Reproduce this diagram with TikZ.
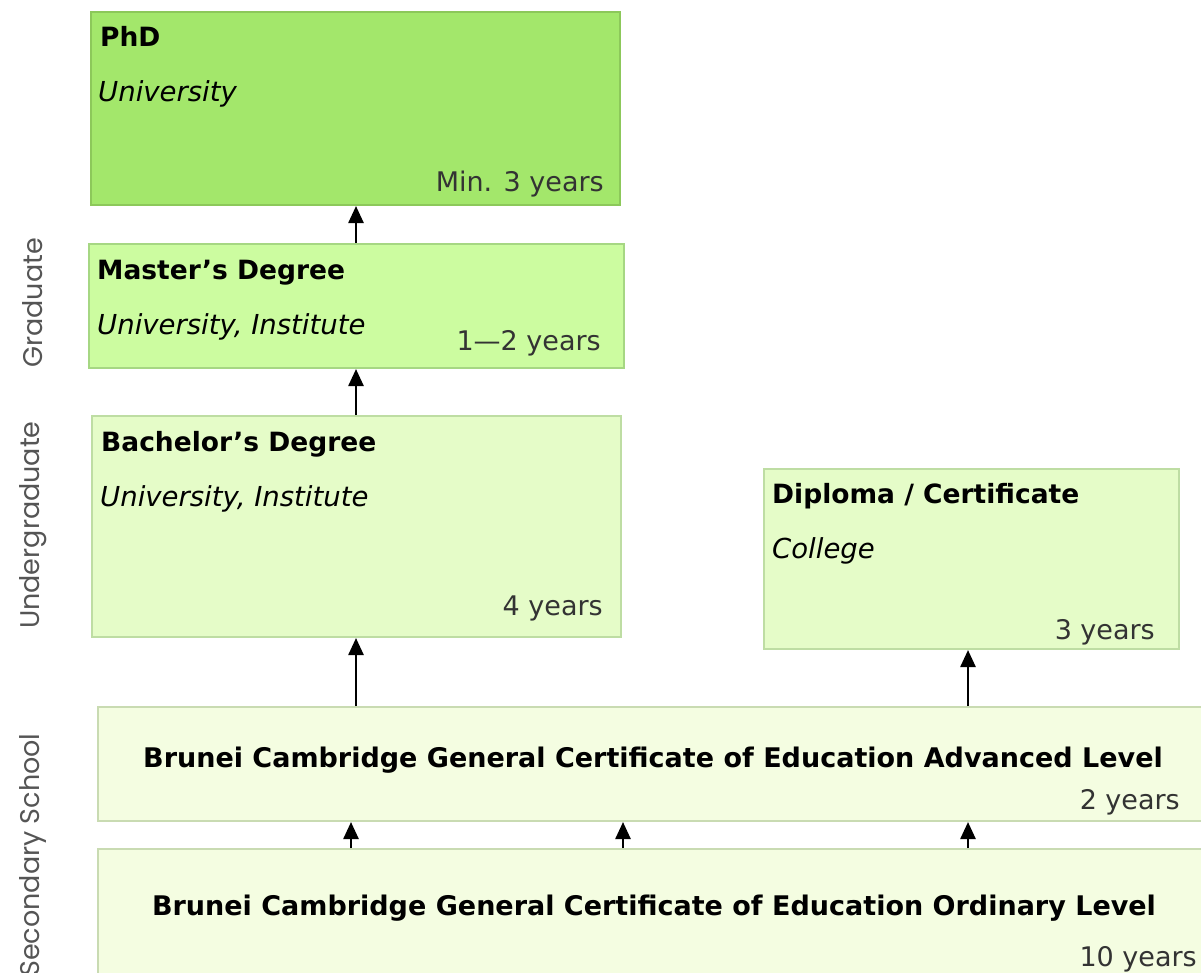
\documentclass[tikz,border=0pt]{standalone}
\usepackage{fontspec}
\setmainfont{DejaVu Sans}
\newfontfamily\sidefont{Poppins}
\usetikzlibrary{arrows.meta}
\definecolor{phdfill}{HTML}{A3E76B}
\definecolor{phdline}{HTML}{8CC85A}
\definecolor{msfill}{HTML}{CCFCA0}
\definecolor{msline}{HTML}{A6D783}
\definecolor{bafill}{HTML}{E5FCC8}
\definecolor{baline}{HTML}{BEDDA3}
\definecolor{alfill}{HTML}{F4FDE1}
\definecolor{alline}{HTML}{C9DBB2}
\definecolor{yeargray}{HTML}{333333}
\definecolor{sidegray}{HTML}{555555}
\tikzset{
  box/.style={draw, line width=2pt, anchor=north west, inner sep=0pt},
  ttl/.style={anchor=base west, inner sep=0pt, font=\fontsize{26.5}{30}\selectfont\bfseries},
  ctrttl/.style={anchor=base, inner sep=0pt, font=\fontsize{27}{30}\selectfont\bfseries},
  inst/.style={anchor=base west, inner sep=0pt, font=\fontsize{27.5}{30}\selectfont\itshape},
  yrs/.style={anchor=base east, inner sep=0pt, text=yeargray, font=\fontsize{27}{30}\selectfont},
  side/.style={rotate=90, anchor=center, inner sep=0pt, text=sidegray, font=\fontsize{27}{30}\selectfont\sidefont},
  arr/.style={line width=2.5pt, -{Triangle[width=15pt,length=17pt]}}
}
\begin{document}
\begin{tikzpicture}[x=1pt,y=-1pt]
\useasboundingbox (0,0) rectangle (1201,972);
% boxes
\node[box, fill=phdfill, draw=phdline, minimum width=529pt, minimum height=193pt] (phd) at (90,11) {};
\node[box, fill=msfill, draw=msline, minimum width=535pt, minimum height=124pt] (ms) at (88,243) {};
\node[box, fill=bafill, draw=baline, minimum width=529pt, minimum height=221pt] (ba) at (91,415) {};
\node[box, fill=bafill, draw=baline, minimum width=415pt, minimum height=180pt] (dip) at (763,468) {};
\node[box, fill=alfill, draw=alline, minimum width=1120pt, minimum height=114pt] (al) at (97,706) {};
\node[box, fill=alfill, draw=alline, minimum width=1120pt, minimum height=140pt] (ol) at (97,848) {};
% texts
\node[ttl] (phdT) at (100,46) {PhD};
\node[inst] (phdI) at (98,101) {University};
\node[yrs] (phdY) at (604,191) {Min. 3 years};
\node[ttl] (msT) at (97,279) {Master’s Degree};
\node[inst] (msI) at (97,334) {University, Institute};
\node[yrs] (msY) at (601,350) {1—2 years};
\node[ttl] (baT) at (101,451) {Bachelor’s Degree};
\node[inst] (baI) at (100,506) {University, Institute};
\node[yrs] (baY) at (603,615) {4 years};
\node[ttl] (dipT) at (772,503) {Diploma / Certificate};
\node[inst] (dipI) at (772,558) {College};
\node[yrs] (dipY) at (1155,639) {3 years};
\node[ctrttl] (alT) at (653,767) {Brunei Cambridge General Certificate of Education Advanced Level};
\node[yrs] (alY) at (1180,809) {2 years};
\node[ctrttl] (olT) at (654,915) {Brunei Cambridge General Certificate of Education Ordinary Level};
\node[yrs] (olY) at (1197,966) {10 years};
% side labels
\node[side] (gr) at (33,303) {Graduate};
\node[side] (ug) at (33,525) {Undergraduate};
\node[side] (ss) at (33,855) {Secondary School};
% arrows
\draw[arr] (ms.north -| 356,0) -- (phd.south -| 356,0);
\draw[arr] (ba.north -| 356,0) -- (ms.south -| 356,0);
\draw[arr] (al.north -| 356,0) -- (ba.south -| 356,0);
\draw[arr] (al.north -| 968,0) -- (dip.south -| 968,0);
\draw[arr] (ol.north -| 351,0) -- (al.south -| 351,0);
\draw[arr] (ol.north -| 623,0) -- (al.south -| 623,0);
\draw[arr] (ol.north -| 968,0) -- (al.south -| 968,0);
\end{tikzpicture}
\end{document}
